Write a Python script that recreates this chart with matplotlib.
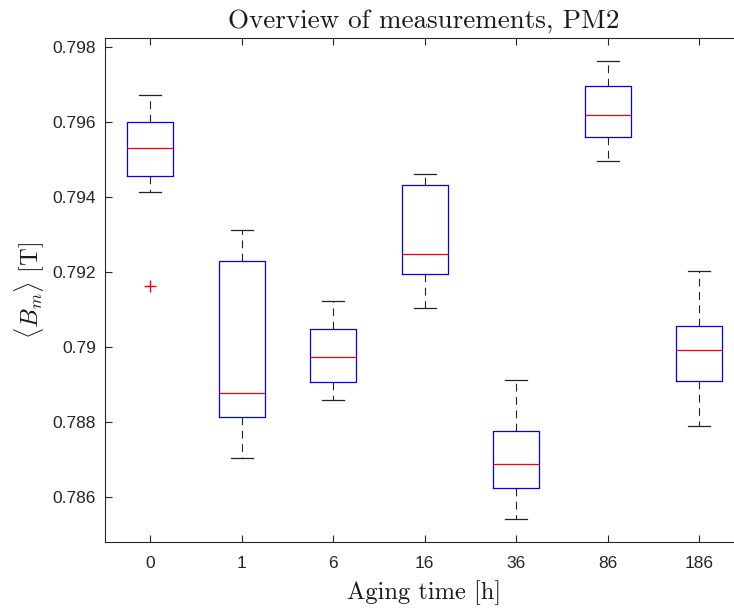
import matplotlib
matplotlib.use("Agg")
import matplotlib.pyplot as plt

categories = ["0", "1", "6", "16", "36", "86", "186"]
whislo = [0.79414, 0.78705, 0.78858, 0.79103, 0.78541, 0.79496, 0.78789]
q1 = [0.79455, 0.78814, 0.78906, 0.79194, 0.78623, 0.79560, 0.78909]
med = [0.79530, 0.78877, 0.78974, 0.79247, 0.78689, 0.79618, 0.78993]
q3 = [0.79599, 0.79229, 0.79049, 0.79433, 0.78776, 0.79696, 0.79057]
whishi = [0.79673, 0.79312, 0.79122, 0.79461, 0.78912, 0.79762, 0.79204]
fliers = [[0.79162], [], [], [], [], [], []]
ytick_vals = [0.786, 0.788, 0.79, 0.792, 0.794, 0.796, 0.798]
ytick_labels = ["0.786", "0.788", "0.79", "0.792", "0.794", "0.796", "0.798"]

plt.rcParams["mathtext.fontset"] = "cm"

W, H = 734, 609
fig = plt.figure(figsize=(W / 100, H / 100), dpi=100)
left, right, top, bottom = 104.5, 734, 38, 542
ax = fig.add_axes([left / W, 1 - bottom / H, (right - left) / W, (bottom - top) / H])

stats = []
for i in range(len(categories)):
    stats.append(dict(med=med[i], q1=q1[i], q3=q3[i], whislo=whislo[i],
                      whishi=whishi[i], fliers=fliers[i], label=categories[i]))

ax.bxp(stats, positions=range(1, len(categories) + 1), widths=0.5,
       boxprops=dict(color="#0000ff", linewidth=0.9),
       medianprops=dict(color="#ff0000", linewidth=0.9),
       whiskerprops=dict(color="#222222", linewidth=0.8, linestyle=(0, (7, 5))),
       capprops=dict(color="#222222", linewidth=0.9),
       capwidths=0.24,
       flierprops=dict(marker="+", markeredgecolor="#ff0000", markersize=8,
                       markeredgewidth=1.0, linestyle="none"))

unit_px = 91.5
ax.set_xlim(0.5, 0.5 + (right - left) / unit_px)
ax.set_ylim(0.78480, 0.79824)
ax.set_yticks(ytick_vals)
ax.set_yticklabels(ytick_labels)
ax.set_xticks(range(1, len(categories) + 1))
ax.set_xticklabels(categories)

tick_color = "#262626"
for lab in ax.get_xticklabels() + ax.get_yticklabels():
    lab.set_family("Liberation Sans")
    lab.set_fontsize(12.5)
    lab.set_color(tick_color)
ax.tick_params(axis="both", direction="in", length=5, width=0.8, color=tick_color)
ax.xaxis.set_ticks_position("both")
ax.yaxis.set_ticks_position("left")
ax.tick_params(axis="x", pad=10)
ax.tick_params(axis="y", pad=6)
for s in ["left", "bottom", "top"]:
    ax.spines[s].set_color(tick_color)
    ax.spines[s].set_linewidth(0.8)
ax.spines["right"].set_visible(False)

cx = (424 - left) / (right - left)
ax.set_title("Overview of measurements, PM2", family="cmr10", fontsize=19.5,
             color="#1a1a1a", pad=7, x=cx)
ax.set_xlabel("Aging time [h]", family="cmr10", fontsize=17.7, color="#1a1a1a")
ax.set_ylabel(r"$\langle B_m\rangle$ [T]", family="cmr10", fontsize=17.7,
              color="#1a1a1a", labelpad=5)
ax.xaxis.set_label_coords(cx, -0.075)

fig.savefig("out.png", dpi=100)
